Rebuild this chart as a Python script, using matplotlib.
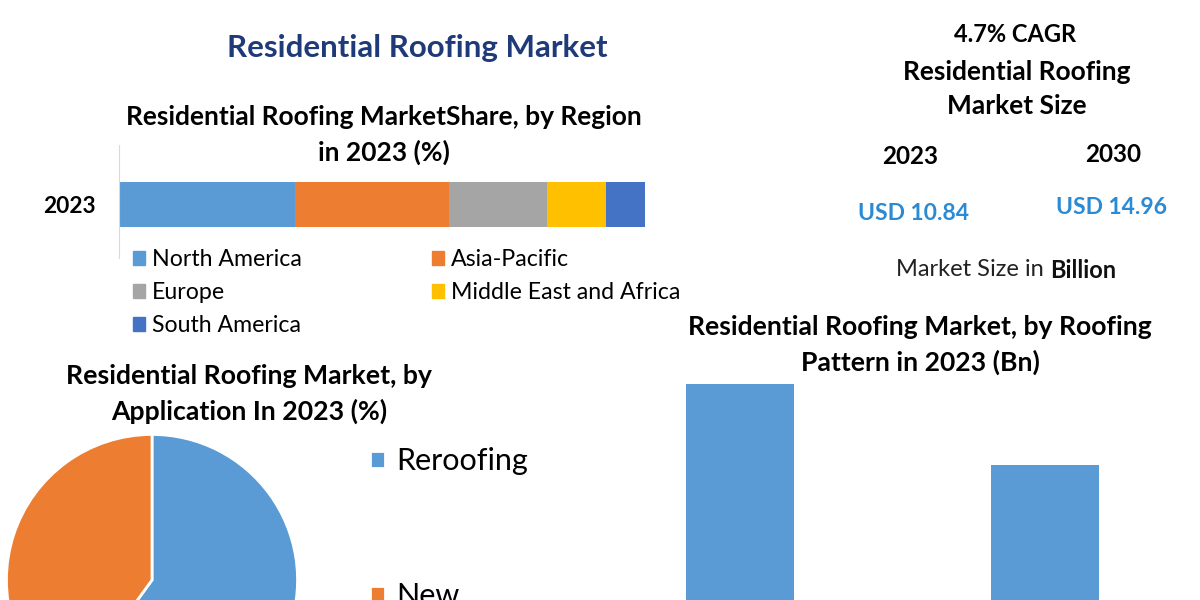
import matplotlib
matplotlib.use("Agg")
import matplotlib.pyplot as plt
from matplotlib.patches import Patch

plt.rcParams["font.family"] = ["Lato", "DejaVu Sans"]

# region share bar (2023, %)
REGIONS = ["North America", "Asia-Pacific", "Europe", "Middle East and Africa", "South America"]
REGION_SHARE = [33.5, 29.3, 18.6, 11.2, 7.4]
REGION_COLORS = ["#5B9BD5", "#ED7D31", "#A5A5A5", "#FFC000", "#4472C4"]
BAR_YEAR = "2023"

# application pie (2023, %)
APPLICATIONS = ["Reroofing", "New"]
APPLICATION_SHARE = [60, 40]
APPLICATION_COLORS = ["#5B9BD5", "#ED7D31"]

# roofing pattern bars (2023, Bn) - category names are cut off in the source
PATTERNS = ["Pattern 1", "Pattern 2"]
PATTERN_VALUES = [6.3, 4.54]

# market size
SIZE_YEARS = ["2023", "2030"]
SIZE_LABELS = ["USD 10.84", "USD 14.96"]
CAGR = "4.7% CAGR"

W, H = 1200, 600
NAVY = "#1F3A78"
USD_BLUE = "#2A8AD4"


def fx(x):
    return x / W


def fy(y):
    # pixel row (from top) -> figure fraction
    return 1 - y / H


fig = plt.figure(figsize=(12, 6), dpi=100)
fig.patch.set_facecolor("white")

# --- titles / text blocks ---
fig.text(fx(417), fy(48), "Residential Roofing Market", ha="center", va="center",
         fontsize=22.5, fontweight="bold", color=NAVY)
fig.text(fx(384), fy(117), "Residential Roofing MarketShare, by Region", ha="center", va="center",
         fontsize=19, fontweight="bold", color="black")
fig.text(fx(384), fy(152), "in 2023 (%)", ha="center", va="center",
         fontsize=19, fontweight="bold", color="black")

fig.text(fx(1015), fy(34), CAGR, ha="center", va="center", fontsize=17, fontweight="bold")
fig.text(fx(1017), fy(72), "Residential Roofing", ha="center", va="center", fontsize=19, fontweight="bold")
fig.text(fx(1017), fy(106), "Market Size", ha="center", va="center", fontsize=19, fontweight="bold")
for xc, yc, yr in zip([910, 1113], [157, 155], SIZE_YEARS):
    fig.text(fx(xc), fy(yc), yr, ha="center", va="center", fontsize=17.5, fontweight="bold")
for xc, yc, lab in zip([914, 1112], [213, 208], SIZE_LABELS):
    fig.text(fx(xc), fy(yc), lab, ha="center", va="center", fontsize=16.5, fontweight="bold", color=USD_BLUE)
fig.text(fx(1044), fy(270), "Market Size in", ha="right", va="center", fontsize=17, color="#222222")
fig.text(fx(1050), fy(270), "Billion", ha="left", va="center", fontsize=17, fontweight="bold", color="#111111")

fig.text(fx(249), fy(376), "Residential Roofing Market, by", ha="center", va="center",
         fontsize=19.2, fontweight="bold")
fig.text(fx(249), fy(411), "Application In 2023 (%)", ha="center", va="center",
         fontsize=19.2, fontweight="bold")

fig.text(fx(920), fy(327), "Residential Roofing Market, by Roofing", ha="center", va="center",
         fontsize=19.1, fontweight="bold")
fig.text(fx(920), fy(362), "Pattern in 2023 (Bn)", ha="center", va="center",
         fontsize=19.1, fontweight="bold")

# --- stacked region bar ---
ax1 = fig.add_axes([fx(119), fy(258), fx(645 - 119), (258 - 145) / H])
left = 0
for share, col, name in zip(REGION_SHARE, REGION_COLORS, REGIONS):
    ax1.barh(0, share, left=left, height=0.8, color=col, label=name)
    left += share
ax1.set_xlim(0, 100)
ax1.set_ylim(-0.95, 1.06)
ax1.set_xticks([])
ax1.set_yticks([0], labels=[BAR_YEAR])
ax1.tick_params(axis="y", length=0, pad=17, labelsize=16.3)
for lab in ax1.get_yticklabels():
    lab.set_fontweight("bold")
for s in ["top", "right", "bottom"]:
    ax1.spines[s].set_visible(False)
ax1.spines["left"].set_color("#D9D9D9")
ax1.patch.set_alpha(0)

order = [0, 2, 4, 1, 3]
handles = [Patch(color=REGION_COLORS[i]) for i in order]
labels = [REGIONS[i] for i in order]
fig.legend(handles, labels, loc="upper left", bbox_to_anchor=(fx(133), fy(249)),
           ncol=2, frameon=False, fontsize=16.7, handlelength=0.52, handleheight=0.52,
           handletextpad=0.3, columnspacing=5.6, labelspacing=0.52, borderpad=0,
           borderaxespad=0)

# --- application pie ---
ax2 = fig.add_axes([fx(5), fy(727), fx(294), 294 / H])
wedges, _ = ax2.pie(APPLICATION_SHARE, colors=APPLICATION_COLORS, startangle=90,
                    counterclock=False, radius=1,
                    wedgeprops=dict(edgecolor="white", linewidth=2))
ax2.set_xlim(-1.01, 1.01)
ax2.set_ylim(-1.01, 1.01)
ax2.set_aspect("equal")
fig.legend(wedges, APPLICATIONS, loc="upper left", bbox_to_anchor=(fx(370), fy(447)),
           frameon=False, fontsize=22, handlelength=0.48, handleheight=0.48,
           handletextpad=0.38, labelspacing=3.5, borderpad=0, borderaxespad=0)

# --- roofing pattern bars ---
ax3 = fig.add_axes([fx(587), fy(674), fx(611), 368 / H])
ax3.bar(range(len(PATTERNS)), PATTERN_VALUES, width=0.354, color="#5B9BD5")
ax3.set_xlim(-0.5, 1.5)
ax3.set_ylim(0, 8)
ax3.axis("off")

fig.savefig("out.png", dpi=100, facecolor="white")
